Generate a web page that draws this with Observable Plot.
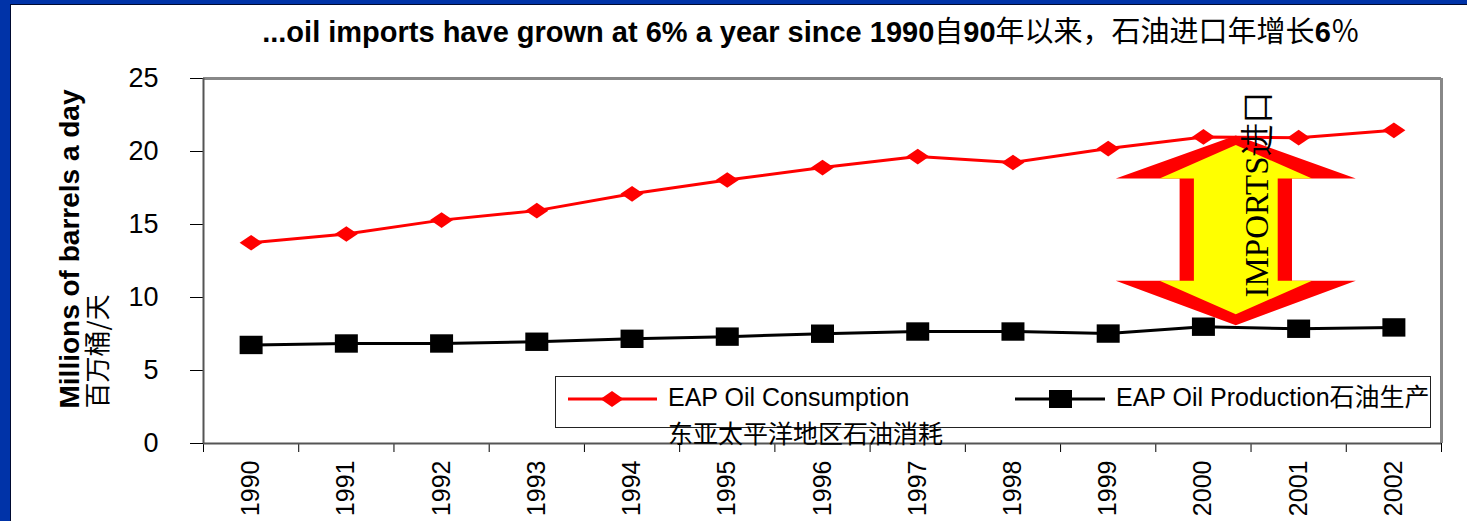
<!DOCTYPE html>
<html>
<head>
<meta charset="utf-8">
<script src="https://cdn.jsdelivr.net/npm/d3@7"></script>
<script src="https://cdn.jsdelivr.net/npm/@observablehq/plot@0.6"></script>
<style>
html, body { margin: 0; padding: 0; width: 1467px; height: 521px; overflow: hidden; background: #0033a8; }
#panel { position: absolute; left: 10px; top: 4px; width: 1457px; height: 517px; background: #fff; border-left: 1px solid #000a30; border-top: 1px solid #000a30; }
#chart, #overlay { position: absolute; left: 0; top: 0; }
</style>
</head>
<body>
<div id="panel"></div>
<div id="chart"></div>
<svg id="overlay" width="1467" height="521" xmlns="http://www.w3.org/2000/svg" font-family="Arial, 'Liberation Sans', sans-serif"></svg>
<script>
// ---- data ----
const years = [1990, 1991, 1992, 1993, 1994, 1995, 1996, 1997, 1998, 1999, 2000, 2001, 2002];
const consumption = [13.75, 14.35, 15.3, 15.95, 17.1, 18.05, 18.9, 19.65, 19.25, 20.2, 21.0, 20.95, 21.45];
const production = [6.75, 6.85, 6.85, 6.97, 7.17, 7.32, 7.52, 7.67, 7.67, 7.53, 8.0, 7.86, 7.95];
const yTicks = [0, 5, 10, 15, 20, 25];
const seriesNames = ["EAP Oil Consumption", "EAP Oil Production石油生产"];
const seriesSubNames = ["东亚太平洋地区石油消耗", ""];
const yLabel = "Millions of barrels a day";
const yLabelZh = "百万桶/天";
const arrowLabel = "IMPORTS进口";

// ---- annotation: double arrow between the two series (data units) ----
const arrowCx = 2000.34;
const arrowOuter = [[0, 21.1], [1.26, 18.15], [0.59, 18.15], [0.59, 11.15], [1.26, 11.15], [0, 8.1], [-1.26, 11.15], [-0.59, 11.15], [-0.59, 18.15], [-1.26, 18.15], [0, 21.1]];
const arrowInner = [[0, 20.45], [0.8, 18.15], [0.44, 18.15], [0.44, 11.15], [0.8, 11.15], [0, 8.85], [-0.8, 11.15], [-0.44, 11.15], [-0.44, 18.15], [-0.8, 18.15], [0, 20.45]];

const consRows = years.map((year, i) => ({year, value: consumption[i]}));
const prodRows = years.map((year, i) => ({year, value: production[i]}));
const bounds = [years[0] - 0.5, ...years.map(y => y + 0.5)];
const outerRows = arrowOuter.map(([dx, v]) => ({x: arrowCx + dx, y: v}));
const innerRows = arrowInner.map(([dx, v]) => ({x: arrowCx + dx, y: v}));

const diamondSym = {draw(ctx, size) { const r = Math.sqrt(size / Math.PI); const h = r * 0.68; ctx.moveTo(0, -h); ctx.lineTo(r, 0); ctx.lineTo(0, h); ctx.lineTo(-r, 0); ctx.closePath(); }};
const squareSym = {draw(ctx, size) { const r = Math.sqrt(size / Math.PI); const h = r * 0.8; ctx.moveTo(-r, -h); ctx.lineTo(r, -h); ctx.lineTo(r, h); ctx.lineTo(-r, h); ctx.closePath(); }};

const chart = Plot.plot({
  width: 1467,
  height: 521,
  marginLeft: 203,
  marginRight: 26,
  marginTop: 78,
  marginBottom: 78,
  style: {background: "transparent", fontFamily: "Arial, 'Liberation Sans', sans-serif", overflow: "visible", color: "#000"},
  x: {domain: [bounds[0], bounds[bounds.length - 1]]},
  y: {domain: [0, 25]},
  marks: [
    Plot.ruleY([25], {stroke: "#888", strokeWidth: 3}),
    Plot.ruleX([bounds[bounds.length - 1]], {stroke: "#888", strokeWidth: 3, y1: 0, y2: 25}),
    Plot.axisY(yTicks, {tickSize: 13, tickPadding: 32, fontSize: 27, label: null, tickFormat: "d"}),
    Plot.axisX(bounds, {tickSize: 9, tickFormat: () => "", label: null}),
    Plot.axisX(years, {tickSize: 0, tickRotate: -90, tickPadding: 17, fontSize: 25, label: null, tickFormat: "d"}),
    Plot.ruleX([bounds[0]], {stroke: "#555", strokeWidth: 2}),
    Plot.ruleY([0], {stroke: "#555", strokeWidth: 2}),
    Plot.line(consRows, {x: "year", y: "value", stroke: "#ff0000", strokeWidth: 3}),
    Plot.dot(consRows, {x: "year", y: "value", symbol: diamondSym, r: 11.5, fill: "#ff0000", stroke: "none"}),
    Plot.line(prodRows, {x: "year", y: "value", stroke: "#000", strokeWidth: 3}),
    Plot.dot(prodRows, {x: "year", y: "value", symbol: squareSym, r: 11.5, fill: "#000", stroke: "none"}),
    Plot.line(outerRows, {x: "x", y: "y", fill: "#ff0000", stroke: "none", curve: "linear-closed"}),
    Plot.line(innerRows, {x: "x", y: "y", fill: "#ffff00", stroke: "none", curve: "linear-closed"}),
    Plot.text([arrowLabel], {x: arrowCx + 0.34, y: 10, text: d => d, rotate: -90, textAnchor: "start", lineAnchor: "bottom", fontSize: 33, fontFamily: "'Liberation Serif', 'Times New Roman', serif", fill: "#000"}),
    Plot.text([yLabel], {frameAnchor: "bottom-left", dx: -133, dy: -35, text: d => d, rotate: -90, textAnchor: "start", lineAnchor: "middle", fontSize: 28, fontWeight: "bold", fill: "#000"}),
    Plot.text([yLabelZh], {frameAnchor: "bottom-left", dx: -105, dy: -35, text: d => d, rotate: -90, textAnchor: "start", lineAnchor: "middle", fontSize: 26, fontFamily: "'Noto Sans CJK SC', sans-serif", fill: "#000"})
  ]
});
document.getElementById("chart").appendChild(chart);

// ---- title and legend (overlay) ----
const ov = d3.select("#overlay");
const cjk = "'Noto Sans CJK SC', sans-serif";
const title = ov.append("text").attr("x", 811).attr("y", 42).attr("text-anchor", "middle").attr("font-size", 29).attr("fill", "#000");
title.append("tspan").attr("font-weight", "bold").text("...oil imports have grown at 6% a year since 1990");
title.append("tspan").attr("font-family", cjk).text("自");
title.append("tspan").attr("font-weight", "bold").text("90");
title.append("tspan").attr("font-family", cjk).text("年以来，石油进口年增长");
title.append("tspan").attr("font-weight", "bold").text("6");
title.append("tspan").attr("font-family", cjk).text("％");

const lg = ov.append("g");
lg.append("rect").attr("x", 555.5).attr("y", 376.5).attr("width", 875).attr("height", 51).attr("fill", "#fff").attr("stroke", "#222").attr("stroke-width", 1);
// consumption entry
lg.append("line").attr("x1", 568).attr("x2", 657).attr("y1", 399).attr("y2", 399).attr("stroke", "#ff0000").attr("stroke-width", 3);
lg.append("path").attr("transform", "translate(612,399)").attr("d", "M0,-8L11.5,0L0,8L-11.5,0Z").attr("fill", "#ff0000");
lg.append("text").attr("x", 668).attr("y", 406).attr("font-size", 25).attr("fill", "#000").text(seriesNames[0]);
lg.append("text").attr("x", 668).attr("y", 443).attr("font-size", 25).attr("font-family", cjk).attr("fill", "#000").text(seriesSubNames[0]);
// production entry
lg.append("line").attr("x1", 1015).attr("x2", 1105).attr("y1", 399).attr("y2", 399).attr("stroke", "#000").attr("stroke-width", 3);
lg.append("rect").attr("x", 1049).attr("y", 390).attr("width", 23).attr("height", 18).attr("fill", "#000");
const t2 = lg.append("text").attr("x", 1116).attr("y", 406).attr("font-size", 25).attr("fill", "#000");
t2.append("tspan").text("EAP Oil Production");
t2.append("tspan").attr("font-family", cjk).text("石油生产");
</script>
</body>
</html>
